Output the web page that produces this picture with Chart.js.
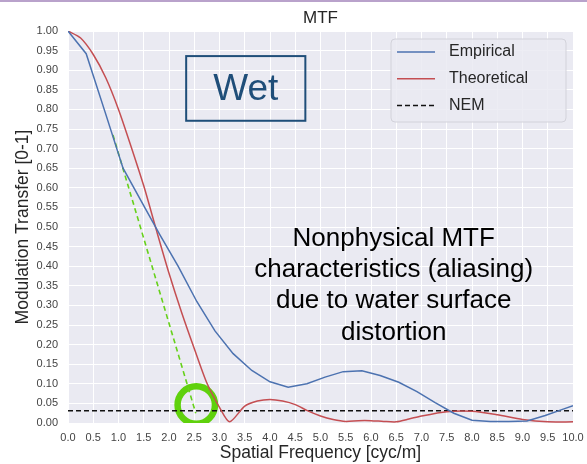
<!DOCTYPE html>
<html>
<head>
<meta charset="utf-8">
<title>MTF</title>
<script src="https://cdn.jsdelivr.net/npm/chart.js@4.4.1/dist/chart.umd.min.js"></script>
<style>
  html, body { margin: 0; padding: 0; background: #fff; }
  #wrap { position: relative; width: 587px; height: 464px; }
  #topline { position: absolute; left: 0; top: 0; width: 587px; height: 1.5px; background: #b9a2cb; }
</style>
</head>
<body>
<div id="wrap">
  <canvas id="mtfChart" width="587" height="464"></canvas>
  <div id="topline"></div>
</div>
<script>
// values
const empiricalFreq = [0, 0.36, 0.73, 1.09, 1.45, 1.82, 2.18, 2.55, 2.91, 3.27, 3.64, 4.0, 4.36, 4.73,
  5.09, 5.45, 5.82, 6.18, 6.55, 6.91, 7.27, 7.64, 8.0, 8.36, 8.73, 9.09, 9.45, 9.82, 10.0];
const empiricalMtf = [1.0, 0.942, 0.795, 0.65, 0.566, 0.48, 0.40, 0.31, 0.235, 0.177, 0.134, 0.105, 0.091, 0.100,
  0.117, 0.131, 0.133, 0.121, 0.104, 0.080, 0.052, 0.025, 0.007, 0.004, 0.004, 0.005, 0.019, 0.036, 0.044];

const theoreticalFreq = [0, 0.25, 0.5, 0.75, 1.0, 1.25, 1.5, 1.75, 2.0, 2.25, 2.5, 2.75, 3.0, 3.2,
  3.5, 3.75, 4.0, 4.25, 4.5, 4.75, 5.0, 5.25, 5.5, 5.75, 6.0, 6.25, 6.5, 6.75, 7.0, 7.5, 8.0, 8.5, 9.0, 9.5, 10.0];
const theoreticalMtf = [1.0, 0.982, 0.94, 0.88, 0.80, 0.705, 0.605, 0.492, 0.382, 0.282, 0.19, 0.102, 0.04, 0.003,
  0.043, 0.056, 0.060, 0.056, 0.047, 0.031, 0.018, 0.009, 0.004, 0.006, 0.006, 0.004, 0.003, 0.010, 0.018, 0.029, 0.030, 0.021, 0.009, 0.003, 0.003];

const nemFreq = [0, 10];
const nemMtf = [0.031, 0.031];

// hand-drawn overlays on the slide
const guideFreq = [0.89, 2.53];
const guideMtf = [0.735, 0.025];
const circleFreq = [2.54];
const circleMtf = [0.046];

const seriesLabels = ['Empirical', 'Theoretical', 'NEM'];
const seriesColors = ['#4c72b0', '#c44e52', '#111111'];

const wetLabel = 'Wet';
const wetBox = { x0: 2.34, x1: 4.70, y0: 0.771, y1: 0.936 };
const noteLines = ['Nonphysical MTF', 'characteristics (aliasing)', 'due to water surface', 'distortion'];
const noteAnchor = { x: 6.45, y: 0.452 };

const FONT = "'Liberation Sans', Arial, sans-serif";

function pts(xs, ys) {
  return xs.map((x, i) => ({ x: x, y: ys[i] }));
}

const overlayPlugin = {
  id: 'overlay',
  beforeDraw(chart) {
    const a = chart.chartArea;
    const ctx = chart.ctx;
    ctx.save();
    ctx.fillStyle = '#eaeaf2';
    ctx.fillRect(a.left, a.top, a.right - a.left, a.bottom - a.top);
    ctx.restore();
  },
  afterDatasetsDraw(chart) {
    const ctx = chart.ctx;
    const xs = chart.scales.x, ys = chart.scales.y;
    const a = chart.chartArea;
    ctx.save();

    // Wet box
    const bx0 = xs.getPixelForValue(wetBox.x0), bx1 = xs.getPixelForValue(wetBox.x1);
    const by0 = ys.getPixelForValue(wetBox.y1), by1 = ys.getPixelForValue(wetBox.y0);
    ctx.strokeStyle = '#1f4e79';
    ctx.lineWidth = 2;
    ctx.strokeRect(bx0, by0, bx1 - bx0, by1 - by0);
    ctx.fillStyle = '#1f4e79';
    ctx.font = '37px ' + FONT;
    ctx.textAlign = 'center';
    ctx.textBaseline = 'middle';
    ctx.fillText(wetLabel, (bx0 + bx1) / 2, (by0 + by1) / 2 + 1);

    // note text
    ctx.fillStyle = '#000';
    ctx.font = '26px ' + FONT;
    ctx.textBaseline = 'alphabetic';
    const nx = xs.getPixelForValue(noteAnchor.x);
    const ny = ys.getPixelForValue(noteAnchor.y);
    noteLines.forEach((t, i) => ctx.fillText(t, nx, ny + i * 31.3));

    // legend
    const lw = 175, lh = 83;
    const lx = a.right - 7 - lw, ly = a.top + 8;
    ctx.beginPath();
    ctx.roundRect(lx, ly, lw, lh, 4);
    ctx.fillStyle = 'rgba(234,234,242,0.85)';
    ctx.fill();
    ctx.strokeStyle = '#d2d2da';
    ctx.lineWidth = 1;
    ctx.stroke();
    ctx.font = '16px ' + FONT;
    ctx.textAlign = 'left';
    ctx.textBaseline = 'middle';
    seriesLabels.forEach((lab, i) => {
      const yy = ly + 13 + i * 26.8;
      ctx.beginPath();
      ctx.strokeStyle = seriesColors[i];
      ctx.lineWidth = 1.5;
      ctx.setLineDash(i === 2 ? [5, 3] : []);
      ctx.moveTo(lx + 6, yy);
      ctx.lineTo(lx + 44, yy);
      ctx.stroke();
      ctx.setLineDash([]);
      ctx.fillStyle = '#262626';
      ctx.fillText(lab, lx + 58, yy);
    });
    ctx.restore();
  }
};

const ctx = document.getElementById('mtfChart').getContext('2d');

const myChart = new Chart(ctx, {
  type: 'scatter',
  data: {
    datasets: [
      { label: seriesLabels[0], data: pts(empiricalFreq, empiricalMtf), showLine: true,
        borderColor: seriesColors[0], borderWidth: 1.5, pointRadius: 0 },
      { label: seriesLabels[1], data: pts(theoreticalFreq, theoreticalMtf), showLine: true,
        borderColor: seriesColors[1], borderWidth: 1.5, pointRadius: 0, tension: 0.25 },
      { label: seriesLabels[2], data: pts(nemFreq, nemMtf), showLine: true,
        borderColor: seriesColors[2], borderWidth: 1.5, borderDash: [5, 3], pointRadius: 0 },
      { label: 'guide', data: pts(guideFreq, guideMtf), showLine: true,
        borderColor: '#66d11a', borderWidth: 1.6, borderDash: [5, 3.5], pointRadius: 0 },
      { label: 'circle', data: pts(circleFreq, circleMtf), showLine: false,
        pointRadius: 18.7, pointBorderWidth: 6.5, pointBorderColor: '#5fd10c',
        pointBackgroundColor: 'rgba(0,0,0,0)', pointHoverRadius: 18.7 }
    ]
  },
  options: {
    responsive: false,
    animation: false,
    // the big circle marker would otherwise push the plot area inwards
    layout: { autoPadding: false, padding: { left: 0, right: 14, top: 0, bottom: 0 } },
    plugins: {
      legend: { display: false },
      tooltip: { enabled: false },
      title: {
        display: true, text: 'MTF', fullSize: false, color: '#262626',
        font: { family: FONT, size: 17, weight: 'normal', lineHeight: 1.2 },
        padding: { top: 8, bottom: 2.6 }
      }
    },
    scales: {
      x: {
        type: 'linear', min: 0, max: 10,
        afterFit: s => { s.height = 41; s.paddingLeft = 0; s.paddingRight = 0; },
        border: { display: false },
        grid: { color: '#ffffff', lineWidth: 1, drawTicks: false },
        ticks: { stepSize: 0.5, maxTicksLimit: 40, autoSkip: false, maxRotation: 0, padding: 8,
          color: '#444', font: { family: FONT, size: 11 }, callback: v => v.toFixed(1) },
        title: { display: true, text: 'Spatial Frequency [cyc/m]', color: '#262626',
          font: { family: FONT, size: 17.5, lineHeight: 1.2 }, padding: { top: 0, bottom: 0 } }
      },
      y: {
        type: 'linear', min: 0, max: 1,
        afterFit: s => { s.width = 68; },
        border: { display: false },
        grid: { color: '#ffffff', lineWidth: 1, drawTicks: false },
        ticks: { stepSize: 0.05, maxTicksLimit: 40, autoSkip: false, padding: 10,
          color: '#444', font: { family: FONT, size: 11 }, callback: v => v.toFixed(2) },
        title: { display: true, text: 'Modulation Transfer [0-1]', color: '#262626',
          font: { family: FONT, size: 17.5, lineHeight: 1.2 }, padding: { top: 13, bottom: 0 } }
      }
    }
  },
  plugins: [overlayPlugin]
});
</script>
</body>
</html>
